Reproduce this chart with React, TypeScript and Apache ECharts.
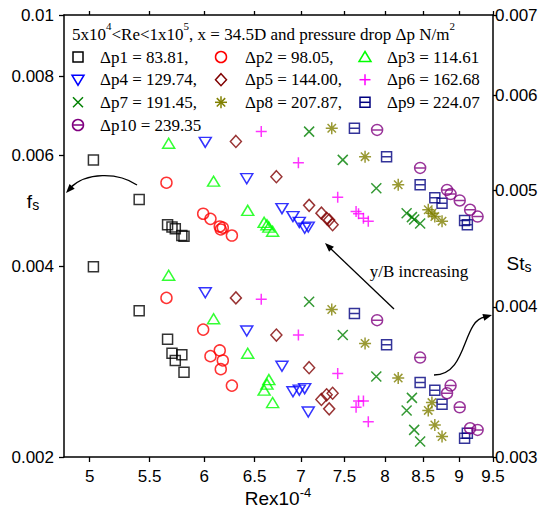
import React, { useEffect, useRef } from 'react';
import * as echarts from 'echarts';

// ---- tick labels ----
const xTicks = [5, 5.5, 6, 6.5, 7, 7.5, 8, 8.5, 9, 9.5];
const fTicks = [0.002, 0.004, 0.006, 0.008, 0.01];
const stTicks = [0.003, 0.004, 0.005, 0.006, 0.007];

// ---- legend labels ----
const names = [
  'Δp1 = 83.81,', 'Δp2 = 98.05,', 'Δp3 = 114.61',
  'Δp4 = 129.74,', 'Δp5 = 144.00,', 'Δp6 = 162.68',
  'Δp7 = 191.45,', 'Δp8 = 207.87,', 'Δp9 = 224.07',
  'Δp10 = 239.35',
];

// ---- data: Re x10^-4, friction factor fs, Stanton number Sts ----
const reP1 = [5.03, 5.41, 5.66, 5.70, 5.73, 5.79, 5.81];
const fP1 = [0.0059, 0.00511, 0.00466, 0.00462, 0.00459, 0.00448, 0.00447];
const stP1 = [0.00432, 0.00397, 0.00376, 0.00366, 0.00361, 0.00365, 0.00353];

const reP2 = [5.65, 5.99, 6.06, 6.15, 6.16, 6.18, 6.27];
const fP2 = [0.00543, 0.00485, 0.00476, 0.00463, 0.00458, 0.00461, 0.00448];
const stP2 = [0.00407, 0.00383, 0.00364, 0.00368, 0.00355, 0.00361, 0.00344];

const reP3 = [5.67, 6.09, 6.43, 6.6, 6.63, 6.65, 6.69];
const fP3 = [0.00627, 0.00546, 0.00491, 0.0047, 0.00466, 0.00462, 0.00455];
const stP3 = [0.00425, 0.00391, 0.00366, 0.00341, 0.00345, 0.00348, 0.00333];

const reP4 = [6.01, 6.42, 6.79, 6.91, 6.98, 7.04, 7.08];
const fP4 = [0.00629, 0.00551, 0.00494, 0.0048, 0.0047, 0.0046, 0.00462];
const stP4 = [0.00411, 0.00382, 0.00357, 0.0034, 0.00341, 0.00342, 0.00327];

const reP5 = [6.31, 6.73, 7.09, 7.23, 7.29, 7.32, 7.36];
const fP5 = [0.00631, 0.00555, 0.005, 0.00486, 0.00477, 0.00474, 0.00466];
const stP5 = [0.00407, 0.00379, 0.00356, 0.00335, 0.00338, 0.00329, 0.00339];

const reP6 = [6.57, 6.97, 7.42, 7.64, 7.67, 7.73, 7.79];
const fP6 = [0.00654, 0.00584, 0.00515, 0.00489, 0.00485, 0.00477, 0.00472];
const stP6 = [0.00406, 0.00379, 0.00352, 0.0033, 0.00334, 0.00334, 0.00321];

const reP7 = [7.09, 7.48, 7.89, 8.28, 8.35, 8.38, 8.46];
const fP7 = [0.00654, 0.0059, 0.00532, 0.00486, 0.00479, 0.00475, 0.00468];
const stP7 = [0.00404, 0.00379, 0.0035, 0.00328, 0.00336, 0.00316, 0.00309];

const reP8 = [7.35, 7.75, 8.17, 8.57, 8.62, 8.66, 8.76];
const fP8 = [0.00662, 0.00597, 0.00539, 0.00492, 0.00486, 0.0048, 0.00472];
const stP8 = [0.00398, 0.00373, 0.00349, 0.00328, 0.00333, 0.00319, 0.00312];

const reP9 = [7.62, 8.02, 8.46, 8.66, 8.76, 9.08, 9.12];
const fP9 = [0.00662, 0.00597, 0.00539, 0.00514, 0.00504, 0.00473, 0.00466];
const stP9 = [0.00395, 0.00372, 0.00346, 0.00341, 0.00332, 0.00311, 0.00314];

const reP10 = [7.9, 8.46, 8.83, 8.88, 9.01, 9.16, 9.27];
const fP10 = [0.00658, 0.00573, 0.00529, 0.00521, 0.00509, 0.00492, 0.0048];
const stP10 = [0.0039, 0.00363, 0.00339, 0.00344, 0.0033, 0.00317, 0.00316];

const reAll = [reP1, reP2, reP3, reP4, reP5, reP6, reP7, reP8, reP9, reP10];
const fAll = [fP1, fP2, fP3, fP4, fP5, fP6, fP7, fP8, fP9, fP10];
const stAll = [stP1, stP2, stP3, stP4, stP5, stP6, stP7, stP8, stP9, stP10];

// ---- marker styles ----
const styles: any[] = [
  { color: '#000000', symbol: 'rect', size: 10, kind: 'square' },
  { color: '#ff0000', symbol: 'circle', size: 11, kind: 'circle' },
  { color: '#00ff00', symbol: 'triangle', size: [12, 10], kind: 'triUp' },
  { color: '#0000ff', symbol: 'triangle', size: [12, 10], rotate: 180, kind: 'triDown' },
  { color: '#800000', symbol: 'diamond', size: [11, 12], kind: 'diamond' },
  { color: '#ff00ff', symbol: 'path://M5 0V10M0 5H10', size: 11, kind: 'plus' },
  { color: '#008000', symbol: 'path://M0 0L10 10M10 0L0 10', size: 10, kind: 'cross' },
  { color: '#808000', symbol: 'path://M5 0V10M0 5H10M1.5 1.5L8.5 8.5M8.5 1.5L1.5 8.5', size: 12, kind: 'star' },
  { color: '#000080', symbol: 'path://M0 0H10V10H0ZM0 5H10', size: 10, kind: 'sqline' },
  { color: '#800080', symbol: 'path://M0 5A5 5 0 1 1 10 5A5 5 0 1 1 0 5ZM0 5H10', size: 11, kind: 'circline' },
];

const SERIF = '"Liberation Serif", "Times New Roman", serif';
const SANS = '"Liberation Sans", Arial, sans-serif';

function icon(kind: string, color: string, cx: number, cy: number): any[] {
  const s = { fill: 'none', stroke: color, lineWidth: 1.5 };
  const ln = (x1: number, y1: number, x2: number, y2: number) => ({
    type: 'line', shape: { x1, y1, x2, y2 }, style: { stroke: color, lineWidth: 1.5 },
  });
  switch (kind) {
    case 'square':
      return [{ type: 'rect', shape: { x: cx - 5, y: cy - 5, width: 10, height: 10 }, style: s }];
    case 'circle':
      return [{ type: 'circle', shape: { cx, cy, r: 5.5 }, style: s }];
    case 'triUp':
      return [{ type: 'polygon', shape: { points: [[cx, cy - 5.5], [cx + 6, cy + 4.5], [cx - 6, cy + 4.5]] }, style: s }];
    case 'triDown':
      return [{ type: 'polygon', shape: { points: [[cx - 6, cy - 4.5], [cx + 6, cy - 4.5], [cx, cy + 5.5]] }, style: s }];
    case 'diamond':
      return [{ type: 'polygon', shape: { points: [[cx, cy - 6], [cx + 5.5, cy], [cx, cy + 6], [cx - 5.5, cy]] }, style: s }];
    case 'plus':
      return [ln(cx - 5.5, cy, cx + 5.5, cy), ln(cx, cy - 5.5, cx, cy + 5.5)];
    case 'cross':
      return [ln(cx - 5, cy - 5, cx + 5, cy + 5), ln(cx + 5, cy - 5, cx - 5, cy + 5)];
    case 'star':
      return [
        ln(cx - 6, cy, cx + 6, cy), ln(cx, cy - 6, cx, cy + 6),
        ln(cx - 4.2, cy - 4.2, cx + 4.2, cy + 4.2), ln(cx + 4.2, cy - 4.2, cx - 4.2, cy + 4.2),
      ];
    case 'sqline':
      return [{ type: 'rect', shape: { x: cx - 5, y: cy - 5, width: 10, height: 10 }, style: s }, ln(cx - 5, cy, cx + 5, cy)];
    case 'circline':
      return [{ type: 'circle', shape: { cx, cy, r: 5.5 }, style: s }, ln(cx - 5.5, cy, cx + 5.5, cy)];
  }
  return [];
}

function arrowHead(tx: number, ty: number, fx: number, fy: number, len = 9, half = 3.5): any {
  const dx = tx - fx;
  const dy = ty - fy;
  const L = Math.hypot(dx, dy);
  const ux = dx / L;
  const uy = dy / L;
  const bx = tx - ux * len;
  const by = ty - uy * len;
  return {
    type: 'polygon',
    shape: { points: [[tx, ty], [bx - uy * half, by + ux * half], [bx + uy * half, by - ux * half]] },
    style: { fill: '#000' },
  };
}

const fmt = (v: number) => String(Number(Number(v).toPrecision(3)));

export default function App() {
  const ref = useRef<HTMLDivElement>(null);
  useEffect(() => {
    if (!ref.current) return;
    const chart = echarts.init(ref.current, null, { renderer: 'svg' });

    const series: any[] = [];
    reAll.forEach((re, i) => {
      const st = styles[i];
      const common = {
        type: 'scatter',
        name: names[i],
        xAxisIndex: 0,
        symbol: st.symbol,
        symbolSize: st.size,
        symbolRotate: st.rotate || 0,
        itemStyle: { color: 'transparent', borderColor: st.color, borderWidth: 1.5 },
        silent: true,
        z: 3,
      };
      series.push({ ...common, yAxisIndex: 0, data: re.map((x, k) => [x, fAll[i][k]]) });
      series.push({ ...common, yAxisIndex: 1, data: re.map((x, k) => [x, stAll[i][k]]) });
    });

    // legend graphics
    const rowsY = [57, 79.7, 102.3, 125];
    const iconX = [78, 221, 365];
    const textX = [100, 245, 387];
    const graphics: any[] = [];
    names.forEach((n, i) => {
      const row = Math.floor(i / 3);
      const col = i % 3;
      icon(styles[i].kind, styles[i].color, iconX[col], rowsY[row]).forEach((g) => graphics.push(g));
      graphics.push({
        type: 'text',
        style: {
          x: textX[col], y: rowsY[row], text: n, fontSize: 17, fontFamily: SERIF,
          fill: '#000', align: 'left', verticalAlign: 'middle',
        },
      });
    });
    graphics.push({
      type: 'text',
      style: {
        x: 72, y: 34,
        text: '5x10{sup|4}<Re<1x10{sup|5}, x = 34.5D and pressure drop Δp N/m{sup|2}',
        fontSize: 17, fontFamily: SERIF, fill: '#000', align: 'left', verticalAlign: 'middle',
        lineHeight: 27,
        rich: { sup: { fontSize: 11, fontFamily: SERIF, fill: '#000', verticalAlign: 'top', lineHeight: 11 } },
      },
    });
    // axis titles
    graphics.push({
      type: 'text',
      style: {
        x: 278, y: 498, text: 'Rex10{sup|-4}', fontSize: 19, fontFamily: SANS, fill: '#000',
        align: 'center', verticalAlign: 'middle', lineHeight: 24,
        rich: { sup: { fontSize: 13, fontFamily: SANS, fill: '#000', verticalAlign: 'top', lineHeight: 13 } },
      },
    });
    graphics.push({
      type: 'text',
      style: {
        x: 33, y: 201, text: 'f{sub|s}', fontSize: 19, fontFamily: SANS, fill: '#000',
        align: 'center', verticalAlign: 'middle', lineHeight: 22,
        rich: { sub: { fontSize: 14, fontFamily: SANS, fill: '#000', verticalAlign: 'bottom', lineHeight: 14 } },
      },
    });
    graphics.push({
      type: 'text',
      style: {
        x: 519, y: 263, text: 'St{sub|s}', fontSize: 19, fontFamily: SANS, fill: '#000',
        align: 'center', verticalAlign: 'middle', lineHeight: 22,
        rich: { sub: { fontSize: 14, fontFamily: SANS, fill: '#000', verticalAlign: 'bottom', lineHeight: 14 } },
      },
    });
    // annotations
    graphics.push({
      type: 'bezierCurve',
      shape: { x1: 137, y1: 185, cpx1: 118, cpy1: 172, cpx2: 86, cpy2: 172, x2: 70, y2: 188 },
      style: { stroke: '#000', lineWidth: 1.3, fill: 'none' },
    });
    graphics.push(arrowHead(66, 193, 78, 180));
    graphics.push({
      type: 'line',
      shape: { x1: 394, y1: 309, x2: 330, y2: 248 },
      style: { stroke: '#000', lineWidth: 1.3 },
    });
    graphics.push(arrowHead(325, 243, 394, 309));
    graphics.push({
      type: 'text',
      style: {
        x: 419, y: 271, text: 'y/B increasing', fontSize: 17, fontFamily: SERIF, fill: '#000',
        align: 'center', verticalAlign: 'middle',
      },
    });
    graphics.push({
      type: 'bezierCurve',
      shape: { x1: 434, y1: 375, cpx1: 468, cpy1: 375, cpx2: 462, cpy2: 320, x2: 485, y2: 317 },
      style: { stroke: '#000', lineWidth: 1.3, fill: 'none' },
    });
    graphics.push(arrowHead(492, 315, 478, 319));

    const axisLine = { show: true, lineStyle: { color: '#000', width: 1.5 } };
    const tickStyle = { color: '#000', width: 1.3 };

    chart.setOption({
      animation: false,
      backgroundColor: '#ffffff',
      grid: { left: 64, right: 47, top: 15, bottom: 51, containLabel: false, outerBoundsMode: 'none' },
      xAxis: [
        {
          type: 'log', logBase: 10, min: 4.8, max: 9.5, position: 'bottom',
          axisLine,
          axisTick: { show: true, length: 5, inside: false, customValues: xTicks, lineStyle: tickStyle },
          axisLabel: {
            show: true, customValues: xTicks, formatter: (v: number) => fmt(v),
            fontSize: 17, fontFamily: SANS, color: '#000', margin: 11,
          },
          splitLine: { show: false },
          minorTick: { show: false },
        },
        {
          type: 'log', logBase: 10, min: 4.8, max: 9.5, position: 'top',
          axisLine,
          axisTick: { show: true, length: 4, inside: false, customValues: xTicks, lineStyle: tickStyle },
          axisLabel: { show: false },
          splitLine: { show: false },
        },
      ],
      yAxis: [
        {
          type: 'log', logBase: 10, min: 0.002, max: 0.01, position: 'left',
          axisLine,
          axisTick: { show: true, length: 5, inside: false, customValues: fTicks, lineStyle: tickStyle },
          axisLabel: {
            show: true, customValues: fTicks, formatter: (v: number) => fmt(v),
            fontSize: 17, fontFamily: SANS, color: '#000', margin: 10,
          },
          splitLine: { show: false },
        },
        {
          type: 'log', logBase: 10, min: 0.003, max: 0.007, position: 'right',
          axisLine,
          axisTick: { show: true, length: 4, inside: false, customValues: stTicks, lineStyle: tickStyle },
          axisLabel: {
            show: true, customValues: stTicks, formatter: (v: number) => fmt(v),
            fontSize: 17, fontFamily: SANS, color: '#000', margin: 2,
          },
          splitLine: { show: false },
        },
      ],
      series,
      graphic: { elements: graphics.map((g) => ({ ...g, silent: true, z: 10 })) },
    });

    return () => chart.dispose();
  }, []);

  return (
    <div
      ref={ref}
      style={{ position: 'fixed', left: 0, top: 0, width: 540, height: 508, background: '#fff' }}
    />
  );
}
